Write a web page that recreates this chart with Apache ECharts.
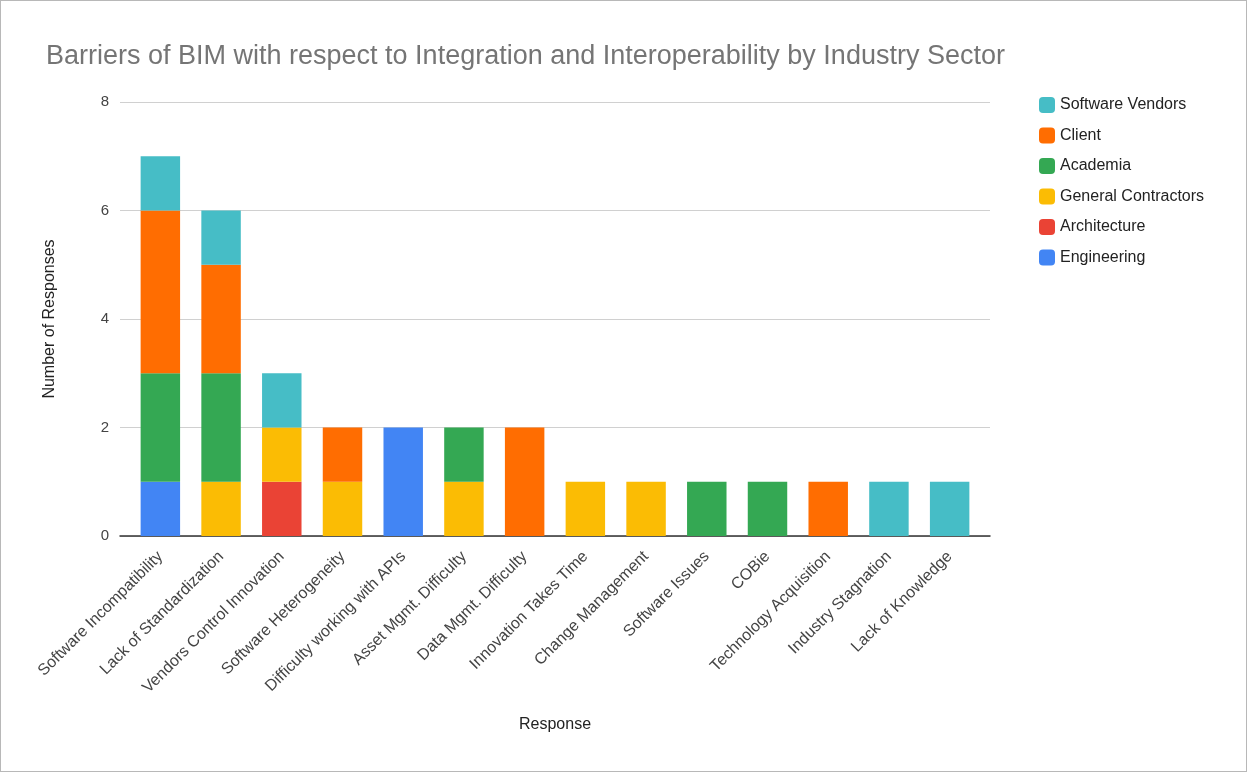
<!DOCTYPE html>
<html>
<head>
<meta charset="utf-8">
<script src="https://cdn.jsdelivr.net/npm/echarts@6/dist/echarts.min.js"></script>
<style>
  html, body { margin: 0; padding: 0; background: #fff; }
  #frame { position: absolute; left: 0; top: 0; width: 1245px; height: 770px; border: 1px solid #b8b8b8; }
  #chart { width: 1245px; height: 770px; }
</style>
</head>
<body>
<div id="frame"><div id="chart"></div></div>
<script>
// Response categories along the x axis
const categories = [
  'Software Incompatibility', 'Lack of Standardization', 'Vendors Control Innovation',
  'Software Heterogeneity', 'Difficulty working with APIs', 'Asset Mgmt. Difficulty',
  'Data Mgmt. Difficulty', 'Innovation Takes Time', 'Change Management',
  'Software Issues', 'COBie', 'Technology Acquisition', 'Industry Stagnation',
  'Lack of Knowledge'
];

// Responses per industry sector (stacked bottom to top)
const engineering        = [1, 0, 0, 0, 2, 0, 0, 0, 0, 0, 0, 0, 0, 0];
const architecture       = [0, 0, 1, 0, 0, 0, 0, 0, 0, 0, 0, 0, 0, 0];
const generalContractors = [0, 1, 1, 1, 0, 1, 0, 1, 1, 0, 0, 0, 0, 0];
const academia           = [2, 2, 0, 0, 0, 1, 0, 0, 0, 1, 1, 0, 0, 0];
const client             = [3, 2, 0, 1, 0, 0, 2, 0, 0, 0, 0, 1, 0, 0];
const softwareVendors    = [1, 1, 1, 0, 0, 0, 0, 0, 0, 0, 0, 0, 1, 1];

// Y axis ticks
const yTicks = [0, 2, 4, 6, 8];

const sectors = [
  { name: 'Engineering', data: engineering, color: '#4285F4' },
  { name: 'Architecture', data: architecture, color: '#EA4335' },
  { name: 'General Contractors', data: generalContractors, color: '#FBBC04' },
  { name: 'Academia', data: academia, color: '#34A853' },
  { name: 'Client', data: client, color: '#FF6D01' },
  { name: 'Software Vendors', data: softwareVendors, color: '#46BDC6' }
];

const font = 'Arial, "Liberation Sans", sans-serif';
const yMin = yTicks[0], yMax = yTicks[yTicks.length - 1];
const chart = echarts.init(document.getElementById('chart'));

chart.setOption({
  animation: false,
  textStyle: { fontFamily: font },
  title: {
    text: 'Barriers of BIM with respect to Integration and Interoperability by Industry Sector',
    left: 40, top: 37,
    textStyle: { fontFamily: font, fontSize: 27, fontWeight: 'normal', color: '#757575' }
  },
  legend: {
    orient: 'vertical',
    left: 1033, top: 91,
    itemWidth: 16, itemHeight: 16, itemGap: 14.5,
    icon: 'roundRect',
    data: sectors.map(s => s.name).reverse(),
    textStyle: { fontFamily: font, fontSize: 16, color: '#222' }
  },
  // grid 0 holds the bars (inset from the gridlines); grid 1 carries gridlines, baseline and y labels
  grid: [
    { left: 129, right: 266, top: 101, bottom: 235 },
    { left: 119, right: 256, top: 101, bottom: 235 }
  ],
  xAxis: [
    {
      type: 'category',
      gridIndex: 0,
      data: categories,
      name: 'Response',
      nameLocation: 'middle',
      nameGap: 181,
      nameTextStyle: { fontFamily: font, fontSize: 16, color: '#222' },
      axisTick: { show: false },
      axisLine: { show: false },
      axisLabel: { rotate: 45, interval: 0, margin: 18, fontSize: 16, color: '#444', fontFamily: font }
    },
    {
      type: 'value',
      gridIndex: 1,
      min: 0, max: 1,
      axisLine: { show: true, onZero: false, lineStyle: { color: '#333', width: 1.5 } },
      axisTick: { show: false },
      axisLabel: { show: false },
      splitLine: { show: false }
    }
  ],
  yAxis: [
    {
      type: 'value',
      gridIndex: 0,
      min: yMin, max: yMax, interval: 2,
      axisLine: { show: false },
      axisTick: { show: false },
      axisLabel: { show: false },
      splitLine: { show: false }
    },
    {
      type: 'value',
      gridIndex: 1,
      min: yMin, max: yMax, interval: 2,
      name: 'Number of Responses',
      nameLocation: 'middle',
      nameGap: 62,
      nameTextStyle: { fontFamily: font, fontSize: 16, color: '#222' },
      axisLine: { show: false },
      axisTick: { show: false },
      axisLabel: { margin: 11, fontSize: 15, color: '#444', fontFamily: font },
      splitLine: { lineStyle: { color: '#d0d0d0' } }
    }
  ],
  series: sectors.map(s => ({
    name: s.name,
    type: 'bar',
    xAxisIndex: 0,
    yAxisIndex: 0,
    stack: 'total',
    barWidth: '65%',
    z: 3,
    itemStyle: { color: s.color },
    data: s.data.map(v => v === 0 ? null : v)
  }))
});
</script>
</body>
</html>
